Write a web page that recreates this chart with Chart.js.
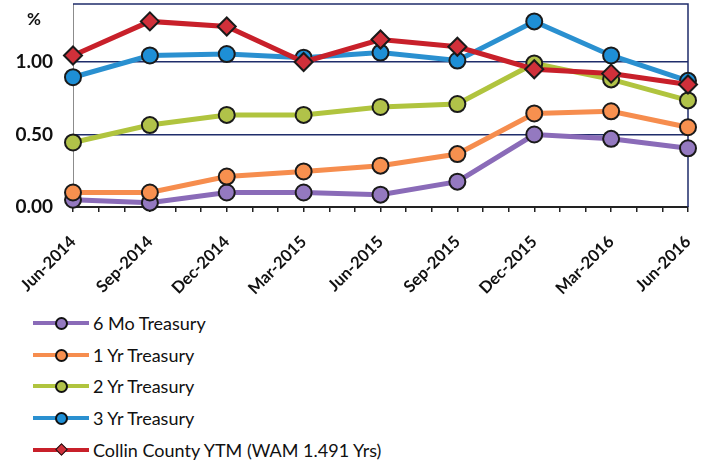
<!DOCTYPE html>
<html>
<head>
<meta charset="utf-8">
<title>Treasury yields vs Collin County YTM</title>
<script src="https://cdn.jsdelivr.net/npm/chart.js@4.4.1/dist/chart.umd.min.js"></script>
<style>
    html, body { margin: 0; padding: 0; background: #fff; }
    #wrap { position: relative; width: 706px; height: 465px; overflow: hidden; }
    #chartBox { position: absolute; left: 0; top: -7px; width: 706px; height: 307px; }
    #legend { position: absolute; left: 33px; top: 307px; font-family: Lato, "Open Sans", sans-serif; font-size: 18px; color: #111; }
    .item { display: flex; align-items: center; height: 31.7px; }
    .swatch { position: relative; width: 56px; height: 16px; margin-right: 4px; }
    .swatch .ln { position: absolute; left: 0; right: 0; top: 6px; height: 4px; }
    .swatch .dot { position: absolute; left: 22px; top: 2px; width: 9px; height: 9px; border: 2px solid #111; border-radius: 50%; }
    .swatch .dia { position: absolute; left: 24px; top: 3px; width: 7px; height: 7px; border: 1.5px solid #111; transform: rotate(45deg); }
</style>
</head>
<body>
<div id="wrap">
    <div id="chartBox"><canvas id="yieldChart"></canvas></div>
    <div id="legend"></div>
</div>
<script>
// quarter-end labels (x axis is monthly, one label every 3 months)
const quarters = ['Jun-2014', 'Sep-2014', 'Dec-2014', 'Mar-2015', 'Jun-2015', 'Sep-2015', 'Dec-2015', 'Mar-2016', 'Jun-2016'];
const yTicks = [0, 0.5, 1.0];

// yields in %
const sixMonth  = [0.05, 0.03, 0.10, 0.10, 0.085, 0.175, 0.50, 0.47, 0.405];
const oneYear   = [0.10, 0.10, 0.21, 0.245, 0.285, 0.365, 0.645, 0.66, 0.55];
const twoYear   = [0.445, 0.565, 0.635, 0.635, 0.69, 0.71, 0.99, 0.88, 0.735];
const threeYear = [0.895, 1.045, 1.055, 1.03, 1.065, 1.01, 1.28, 1.045, 0.87];
const collin    = [1.045, 1.28, 1.245, 1.00, 1.155, 1.105, 0.95, 0.92, 0.845];

function toPoints(values) {
    return values.map((v, i) => ({ x: i * 3, y: v }));
}

function series(label, values, line, fill, order, style) {
    return {
        label: label,
        data: toPoints(values),
        borderColor: line,
        backgroundColor: fill,
        borderWidth: 5,
        pointStyle: style || 'circle',
        pointRadius: style ? 9 : 8,
        pointBorderWidth: 2,
        pointBorderColor: '#1a1a1a',
        pointBackgroundColor: fill,
        order: order,
        clip: false,
        tension: 0
    };
}

// top/right frame of the plot area and the "%" unit label
const frame = {
    id: 'frame',
    beforeDatasetsDraw(chart) {
        const a = chart.chartArea;
        const ctx = chart.ctx;
        ctx.save();
        ctx.strokeStyle = '#1f2d6b';
        ctx.lineWidth = 1.5;
        ctx.beginPath();
        ctx.moveTo(a.left, a.top);
        ctx.lineTo(a.right, a.top);
        ctx.lineTo(a.right, a.bottom);
        ctx.stroke();
        ctx.restore();
    },
    afterDraw(chart) {
        const ctx = chart.ctx;
        ctx.save();
        ctx.font = 'bold 17px Lato, sans-serif';
        ctx.fillStyle = '#111';
        ctx.textAlign = 'center';
        ctx.textBaseline = 'middle';
        ctx.fillText('%', 34, chart.chartArea.top + 16);
        ctx.restore();
    }
};

const chart = new Chart(document.getElementById('yieldChart'), {
    type: 'line',
    data: {
        datasets: [
            series('6 Mo Treasury', sixMonth, '#8a6bb8', '#9479c0', 4),
            series('1 Yr Treasury', oneYear, '#f68d4e', '#f7904f', 3),
            series('2 Yr Treasury', twoYear, '#b0c43e', '#b1c249', 2),
            series('3 Yr Treasury', threeYear, '#2a90d0', '#1e8fd6', 1),
            series('Collin County YTM (WAM 1.491 Yrs)', collin, '#c8202a', '#d0303a', 0, 'rectRot')
        ]
    },
    options: {
        responsive: true,
        maintainAspectRatio: false,
        animation: false,
        layout: { padding: { top: 3, right: 18, left: 0, bottom: 0 } },
        plugins: {
            legend: { display: false },
            tooltip: { enabled: false }
        },
        scales: {
            x: {
                type: 'linear',
                min: 0,
                max: 24,
                ticks: {
                    stepSize: 1,
                    autoSkip: false,
                    minRotation: 45,
                    maxRotation: 45,
                    padding: 20,
                    color: '#111',
                    font: { family: 'Lato, sans-serif', size: 16.5, weight: 'bold' },
                    callback: v => (v % 3 === 0 ? quarters[v / 3] : '')
                },
                grid: { drawOnChartArea: false, drawTicks: true, tickLength: 5, color: '#222', lineWidth: 1.5 },
                border: { color: '#222', width: 2 },
                afterFit(scale) {
                    scale.height = 93;
                    scale.paddingLeft = 0;
                    scale.paddingRight = 0;
                }
            },
            y: {
                min: 0,
                max: 1.4,
                afterBuildTicks(scale) {
                    scale.ticks = yTicks.map(v => ({ value: v }));
                },
                ticks: {
                    padding: 20,
                    color: '#111',
                    font: { family: 'Lato, sans-serif', size: 19, weight: 'bold' },
                    callback: v => v.toFixed(2)
                },
                grid: {
                    drawTicks: false,
                    color: ctx => (ctx.tick && ctx.tick.value === 0 ? 'rgba(0,0,0,0)' : '#1f2d6b'),
                    lineWidth: 1.5
                },
                border: { color: '#8c8c8c', width: 1 },
                afterFit(scale) {
                    scale.width = 73;
                    scale.paddingTop = 0;
                    scale.paddingBottom = 0;
                }
            }
        }
    },
    plugins: [frame]
});

// legend as a vertical list under the chart
const legendBox = document.getElementById('legend');
chart.data.datasets.forEach(ds => {
    const item = document.createElement('div');
    item.classList.add('item');
    const marker = ds.pointStyle === 'rectRot' ? 'dia' : 'dot';
    item.innerHTML = `
        <span class="swatch">
            <span class="ln" style="background:${ds.borderColor}"></span>
            <span class="${marker}" style="background:${ds.pointBackgroundColor}"></span>
        </span>
        <span>${ds.label}</span>
    `;
    legendBox.appendChild(item);
});
</script>
</body>
</html>
